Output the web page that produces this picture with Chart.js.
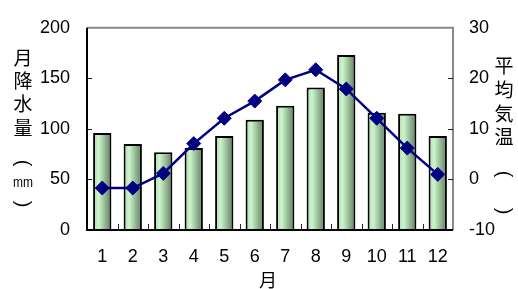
<!DOCTYPE html>
<html>
<head>
<meta charset="utf-8">
<script src="https://cdn.jsdelivr.net/npm/chart.js@4"></script>
<style>
  html, body { margin: 0; padding: 0; background: #fff; }
  #wrap { width: 518px; height: 289px; }
</style>
</head>
<body>
<div id="wrap"><canvas id="climateChart" width="518" height="289"></canvas></div>
<script>
// data
const months = ['1', '2', '3', '4', '5', '6', '7', '8', '9', '10', '11', '12'];
const precipitation = [96, 85, 77, 81, 93, 109, 123, 141, 173, 116, 115, 93];
const temperature = [-1.7, -1.7, 1.2, 7.1, 12.1, 15.5, 19.7, 21.7, 17.9, 12.1, 6.2, 1.0];
const rainTicks = [0, 50, 100, 150, 200];
const tempTicks = [-10, 0, 10, 20, 30];
const xTitle = '月';
const leftTitle = ['月', '降', '水', '量', '(', 'mm', ')'];
const rightTitle = ['平', '均', '気', '温', '(', '', ')'];

const numFont = '"Liberation Sans", Arial, sans-serif';
const cjkFont = '"Noto Sans CJK JP", sans-serif';
const barPct = 0.6;

// horizontal green gradient for each bar
function barFill(context) {
  const chart = context.chart;
  const xs = chart.scales.x;
  if (!chart.chartArea || !xs) return '#b8e6b8';
  const w = xs.width / months.length * barPct;
  const cx = xs.getPixelForValue(context.dataIndex);
  const g = chart.ctx.createLinearGradient(cx - w / 2, 0, cx + w / 2, 0);
  g.addColorStop(0, '#a9d6a9');
  g.addColorStop(0.3, '#cdf5cd');
  g.addColorStop(1, '#5c7c5c');
  return g;
}

function drawTitle(c, list, x, ys) {
  list.forEach((ch, i) => {
    if (!ch) return;
    c.save();
    c.translate(x, ys[i]);
    if (ch === '(' || ch === ')') {
      c.rotate(Math.PI / 2);
      c.font = '20px ' + numFont;
    } else if (ch === 'mm') {
      c.scale(0.8, 1);
      c.font = '15px ' + numFont;
    } else {
      c.font = '19px ' + cjkFont;
    }
    c.fillText(ch, 0, 0);
    c.restore();
  });
}

// frame, inside ticks and vertical titles
const decor = {
  id: 'decor',
  afterDatasetsDraw(chart) {
    const c = chart.ctx;
    const a = chart.chartArea;
    const yl = chart.scales.y, yr = chart.scales.y1, x = chart.scales.x;
    c.save();
    c.lineWidth = 2;
    c.strokeStyle = '#888';
    c.beginPath();
    c.moveTo(a.left, a.top); c.lineTo(a.right, a.top); c.lineTo(a.right, a.bottom);
    c.stroke();
    c.strokeStyle = '#000';
    c.beginPath();
    c.moveTo(a.left, a.top); c.lineTo(a.left, a.bottom); c.lineTo(a.right, a.bottom);
    c.stroke();
    c.lineWidth = 1;
    c.strokeStyle = '#222';
    c.beginPath();
    rainTicks.slice(1, -1).forEach(v => {
      const y = Math.round(yl.getPixelForValue(v)) + 0.5;
      c.moveTo(a.left, y); c.lineTo(a.left + 5, y);
    });
    tempTicks.slice(1, -1).forEach(v => {
      const y = Math.round(yr.getPixelForValue(v)) + 0.5;
      c.moveTo(a.right, y); c.lineTo(a.right - 5, y);
    });
    for (let i = 1; i < months.length; i++) {
      const px = Math.round((x.getPixelForValue(i - 1) + x.getPixelForValue(i)) / 2) + 0.5;
      c.moveTo(px, a.bottom); c.lineTo(px, a.bottom - 6);
    }
    c.stroke();

    c.fillStyle = '#000';
    c.textAlign = 'center';
    c.textBaseline = 'middle';
    c.font = '18px ' + cjkFont;
    c.fillText(xTitle, 268, 280);
    drawTitle(c, leftTitle, 23, [58, 81, 104, 128, 163, 183, 204]);
    drawTitle(c, rightTitle, 504, [66, 90, 114, 137, 174, 192, 211]);
    c.restore();
  }
};

const ctx = document.getElementById('climateChart').getContext('2d');
const climateChart = new Chart(ctx, {
  data: {
    labels: months,
    datasets: [{
      type: 'line',
      label: '平均気温',
      data: temperature,
      yAxisID: 'y1',
      order: 0,
      borderColor: '#000080',
      borderWidth: 2.5,
      pointStyle: 'rectRot',
      pointRadius: 7,
      pointBackgroundColor: '#000080',
      pointBorderColor: '#000080',
      pointBorderWidth: 1,
      tension: 0
    }, {
      type: 'bar',
      label: '月降水量',
      data: precipitation,
      yAxisID: 'y',
      order: 1,
      backgroundColor: barFill,
      borderColor: '#000',
      borderWidth: 2,
      categoryPercentage: 1,
      barPercentage: barPct
    }]
  },
  options: {
    responsive: false,
    animation: false,
    layout: { padding: { top: 19, left: 0, right: 0, bottom: 0 } },
    plugins: { legend: { display: false }, tooltip: { enabled: false } },
    scales: {
      x: {
        grid: { display: false, drawTicks: false },
        border: { display: false },
        ticks: { color: '#000', font: { family: numFont, size: 18 }, padding: 16, maxRotation: 0 },
        afterFit(s) { s.height = 59; }
      },
      y: {
        position: 'left',
        min: 0, max: 200,
        grid: { display: false, drawTicks: false },
        border: { display: false },
        afterBuildTicks(s) { s.ticks = rainTicks.map(v => ({ value: v })); },
        ticks: { color: '#000', font: { family: numFont, size: 18 }, padding: 17 },
        afterFit(s) { s.width = 87; }
      },
      y1: {
        position: 'right',
        min: -10, max: 30,
        grid: { display: false, drawTicks: false },
        border: { display: false },
        afterBuildTicks(s) { s.ticks = tempTicks.map(v => ({ value: v })); },
        ticks: { color: '#000', font: { family: numFont, size: 18 }, padding: 16 },
        afterFit(s) { s.width = 65; }
      }
    }
  },
  plugins: [decor]
});
</script>
</body>
</html>
